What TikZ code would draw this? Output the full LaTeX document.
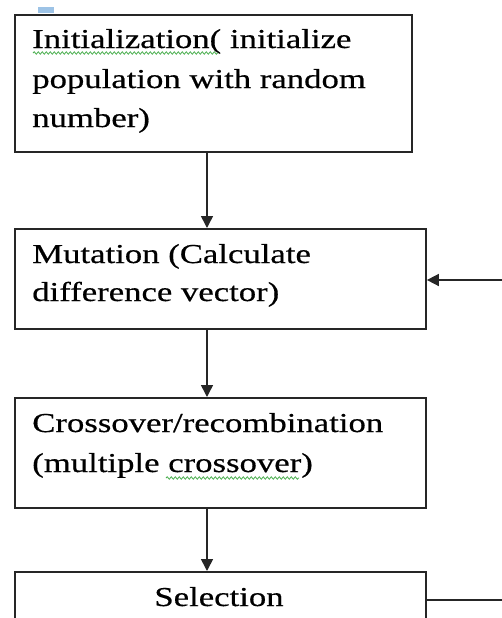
\documentclass[tikz,border=0pt]{standalone}
\usepackage{fontspec}
\setmainfont{Liberation Serif}
\usetikzlibrary{arrows.meta,decorations.pathmorphing}
\definecolor{linegray}{HTML}{262626}
\definecolor{spellgreen}{HTML}{4CAF50}
\definecolor{markblue}{HTML}{9DC3E6}
% box text: Times-like face, set wide
\newcommand{\boxtext}[1]{\scalebox{1.27}[1]{\fontsize{20.5}{28}\selectfont\addfontfeature{FakeBold=0.45}#1}}
\begin{document}
\begin{tikzpicture}[x=0.75pt,y=-0.75pt,
  stepbox/.style={draw=linegray,line width=1.4pt,rectangle,inner sep=0pt,anchor=north west},
  line/.style={anchor=base west,inner sep=0pt},
  flow/.style={draw=linegray,line width=1.2pt,-{Triangle[width=9pt,length=9pt]}},
  wavy/.style={draw=spellgreen,line width=0.6pt,decorate,decoration={snake,amplitude=0.9pt,segment length=3pt}}]
\useasboundingbox (0,0) rectangle (502,618);
\clip (0,0) rectangle (502,618);
\fill[markblue] (38,7) rectangle (54,13);
% process boxes
\node[stepbox,minimum width=297.75pt,minimum height=102.75pt] (init) at (14,14) {};
\node[stepbox,minimum width=308.25pt,minimum height=75pt] (mut) at (14,228) {};
\node[stepbox,minimum width=308.25pt,minimum height=82.5pt] (cross) at (14,397) {};
\node[stepbox,minimum width=308.25pt,minimum height=90pt] (sel) at (14,571) {};
% box texts
\node[line] (i1) at (32,48) {\boxtext{Initialization( initialize}};
\node[line] (i2) at (32,88) {\boxtext{population with random}};
\node[line] (i3) at (32,127) {\boxtext{number)}};
\node[line] (m1) at (32,263) {\boxtext{Mutation (Calculate}};
\node[line] (m2) at (32,301) {\boxtext{difference vector)}};
\node[line] (c1) at (32,432) {\boxtext{Crossover/recombination}};
\node[line] (c2) at (32,472) {\boxtext{(multiple crossover)}};
\node[line,anchor=base] (s1) at (219,606) {\boxtext{Selection}};
% spell-check underlines
\draw[wavy] (33,53) -- (218,53);
\draw[wavy] (166,478) -- (299,478);
% connectors
\draw[flow] (init.south -| 207,0) -- (mut.north -| 207,0);
\draw[flow] (mut.south -| 207,0) -- (cross.north -| 207,0);
\draw[flow] (cross.south -| 207,0) -- (sel.north -| 207,0);
\coordinate (loopin) at (502,280);
\coordinate (loopout) at (502,600);
\draw[flow] (loopin) -- (loopin -| mut.east);
\draw[draw=linegray,line width=1.2pt] (loopout -| sel.east) -- (loopout);
\end{tikzpicture}
\end{document}
